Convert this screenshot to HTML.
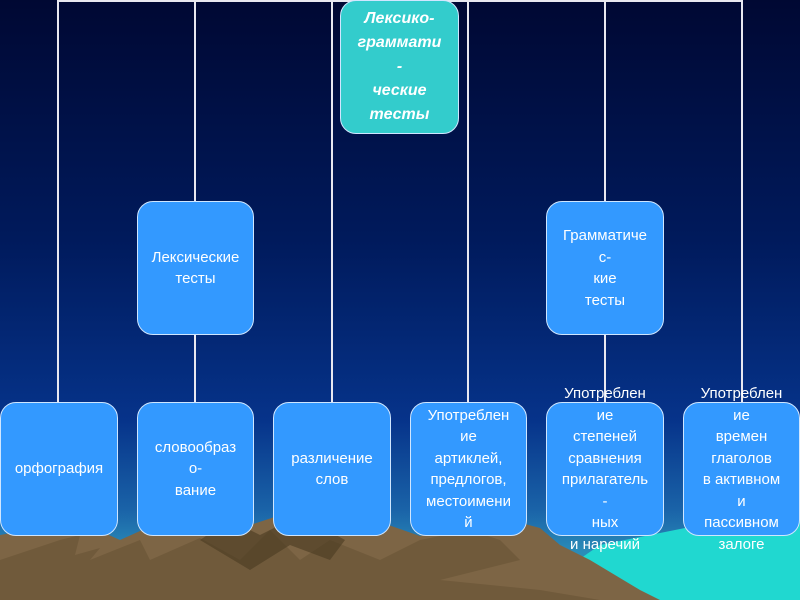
<!DOCTYPE html>
<html><head><meta charset="utf-8"><style>
body{margin:0;width:800px;height:600px;overflow:hidden;position:relative;font-family:"Liberation Sans",sans-serif;
background:linear-gradient(#000833 0%,#001a5c 40%,#06338a 70%,#1a63a8 85%,#2a8cb8 92%,#30b0c0 100%);}
.b{position:absolute;background:#3399ff;border:1.5px solid #cfe6ff;border-radius:16px;box-sizing:border-box;color:#fff;font-size:15px;line-height:21.5px;text-align:center;display:flex;align-items:center;justify-content:center;overflow:visible;white-space:nowrap}
.l{position:absolute;background:#e8e8f0;width:2px}
</style></head><body>
<svg style="position:absolute;left:0;top:0" width="800" height="600">
<polygon points="520,600 600,545 700,525 800,520 800,600" fill="#20d8d0"/>
<polygon points="0,535 40,528 80,522 120,540 160,522 230,518 250,525 290,512 340,530 380,522 420,536 470,525 510,520 540,528 560,545 590,560 640,590 660,600 0,600" fill="#7d6545"/>
<polygon points="60,540 80,535 75,555 100,548 90,560 140,540 150,560 200,538 240,560 270,530 300,560 330,540 380,560 420,540 470,530 500,540 520,560 440,580 540,590 600,600 0,600 0,560" fill="#6b5538" opacity="0.7"/>
<polygon points="200,540 230,520 260,535 300,515 345,540 330,560 290,545 250,570" fill="#4a3a22" opacity="0.6"/>
</svg>
<div style="position:absolute;left:58px;top:0;width:685px;height:2px;background:#e8e8f0"></div>
<div class="l" style="left:57px;top:0;height:402px"></div>
<div class="l" style="left:194px;top:0;height:202px"></div>
<div class="l" style="left:194px;top:334px;height:68px"></div>
<div class="l" style="left:331px;top:0;height:402px"></div>
<div class="l" style="left:467px;top:0;height:402px"></div>
<div class="l" style="left:604px;top:0;height:202px"></div>
<div class="l" style="left:604px;top:334px;height:68px"></div>
<div class="l" style="left:741px;top:0;height:402px"></div>
<div class="b" style="left:340px;top:0;width:119px;height:134px;background:#33cccc;font-style:italic;font-weight:bold;font-size:16px;line-height:24px">Лексико-<br>граммати<br>-<br>ческие<br>тесты</div>
<div class="b" style="left:137px;top:201px;width:117px;height:134px">Лексические<br>тесты</div>
<div class="b" style="left:546px;top:201px;width:118px;height:134px">Грамматиче<br>с-<br>кие<br>тесты</div>
<div class="b" style="left:0;top:402px;width:118px;height:134px">орфография</div>
<div class="b" style="left:137px;top:402px;width:117px;height:134px">словообраз<br>о-<br>вание</div>
<div class="b" style="left:273px;top:402px;width:118px;height:134px">различение<br>слов</div>
<div class="b" style="left:410px;top:402px;width:117px;height:134px">Употреблен<br>ие<br>артиклей,<br>предлогов,<br>местоимени<br>й</div>
<div class="b" style="left:546px;top:402px;width:118px;height:134px">Употреблен<br>ие<br>степеней<br>сравнения<br>прилагатель<br>-<br>ных<br>и наречий</div>
<div class="b" style="left:683px;top:402px;width:117px;height:134px">Употреблен<br>ие<br>времен<br>глаголов<br>в активном<br>и<br>пассивном<br>залоге</div>
</body></html>
